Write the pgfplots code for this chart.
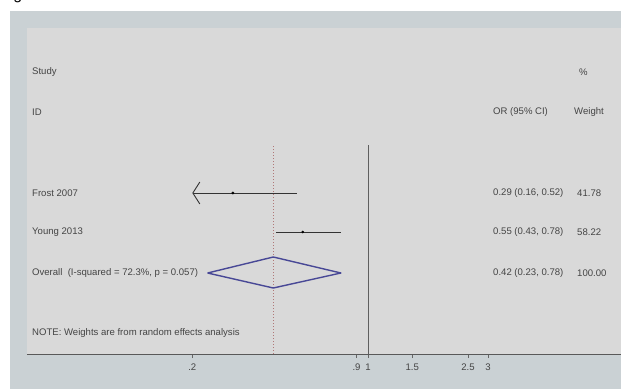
\documentclass[border=0pt]{standalone}
\usepackage{pgfplots}
\pgfplotsset{compat=1.18}
\usepackage{fontspec}
\setmainfont{Liberation Sans}
\usetikzlibrary{arrows.meta}
\definecolor{outerbg}{RGB}{202,209,212}
\definecolor{innerbg}{RGB}{217,217,217}
\definecolor{textgray}{RGB}{68,68,68}
\definecolor{dotc}{RGB}{176,120,120}
\definecolor{diamc}{RGB}{72,72,150}
\definecolor{nullc}{RGB}{95,95,95}
\begin{document}
\begin{tikzpicture}[x=1bp,y=1bp,
  lbl/.style={anchor=west, inner sep=0pt, font=\fontsize{9.6}{11}\selectfont, text=textgray}]
\path[use as bounding box] (0,0) rectangle (621,389);
\fill[white] (0,0) rectangle (621,389);
\fill[outerbg] (10,0) rectangle (621,378);
\fill[innerbg] (27,35) rectangle (621,361);
\node[anchor=base west, inner sep=0pt, font=\fontsize{16}{18}\selectfont, text=black] at (0,389.6) {Figure};
\begin{axis}[at={(27bp,35bp)}, anchor=south west, scale only axis,
  width=594bp, height=326bp,
  xmode=log, xmin=0.04399, xmax=10.15, ymin=35, ymax=361,
  axis x line*=bottom, axis y line=none,
  axis line style={draw=gray!70!black, line width=0.6bp},
  xtick={0.2,0.9,1,1.5,2.5,3},
  xticklabels={.2,.9,1,1.5,2.5,3},
  minor xtick={},
  tick align=outside, major tick length=4bp,
  tick style={draw=gray!80!black, line width=0.5bp},
  xticklabel style={font=\fontsize{9.6}{11}\selectfont, text=textgray, inner sep=1.5bp, yshift=-4bp},
  clip=false]
% reference lines
\addplot[nullc, line width=1bp] coordinates {(1,35) (1,244)};
\addplot[dotc, line width=0.9bp, dash pattern=on 1.5bp off 1.5bp] coordinates {(0.42,35) (0.42,244)};
% Frost 2007: 0.29 (0.16, 0.52) -- lower CI below axis range, arrow at 0.2
\addplot[black!80, line width=0.8bp, arrows={Straight Barb[length=7bp,width=22bp,line width=0.9bp]-}] coordinates {(0.2,196) (0.52,196)};
% Young 2013: 0.55 (0.43, 0.78)
\addplot[black!80, line width=0.8bp] coordinates {(0.43,157) (0.78,157)};
\addplot[only marks, mark=*, mark size=1.2bp, black] coordinates {(0.29,196) (0.55,157)};
% Overall: 0.42 (0.23, 0.78)
\addplot[diamc, line width=1.4bp, line join=round] coordinates {(0.23,116) (0.42,132) (0.78,116) (0.42,101) (0.23,116)};
\end{axis}
\node[lbl] at (32,317) {Study};
\node[lbl] at (32,277) {ID};
\node[lbl] at (579,317) {\%};
\node[lbl] at (493,277) {OR (95\% CI)};
\node[lbl] at (574,277) {Weight};
\node[lbl] at (32,196) {Frost 2007};
\node[lbl] at (32,157) {Young 2013};
\node[lbl] at (32,116) {Overall\ \ (I-squared = 72.3\%, p = 0.057)};
\node[lbl] at (32,56) {NOTE: Weights are from random effects analysis};
\node[lbl] at (493,196) {0.29 (0.16, 0.52)};
\node[lbl] at (493,157) {0.55 (0.43, 0.78)};
\node[lbl] at (493,116) {0.42 (0.23, 0.78)};
\node[lbl] at (577,196) {41.78};
\node[lbl] at (577,157) {58.22};
\node[lbl] at (577,116) {100.00};
\end{tikzpicture}
\end{document}
